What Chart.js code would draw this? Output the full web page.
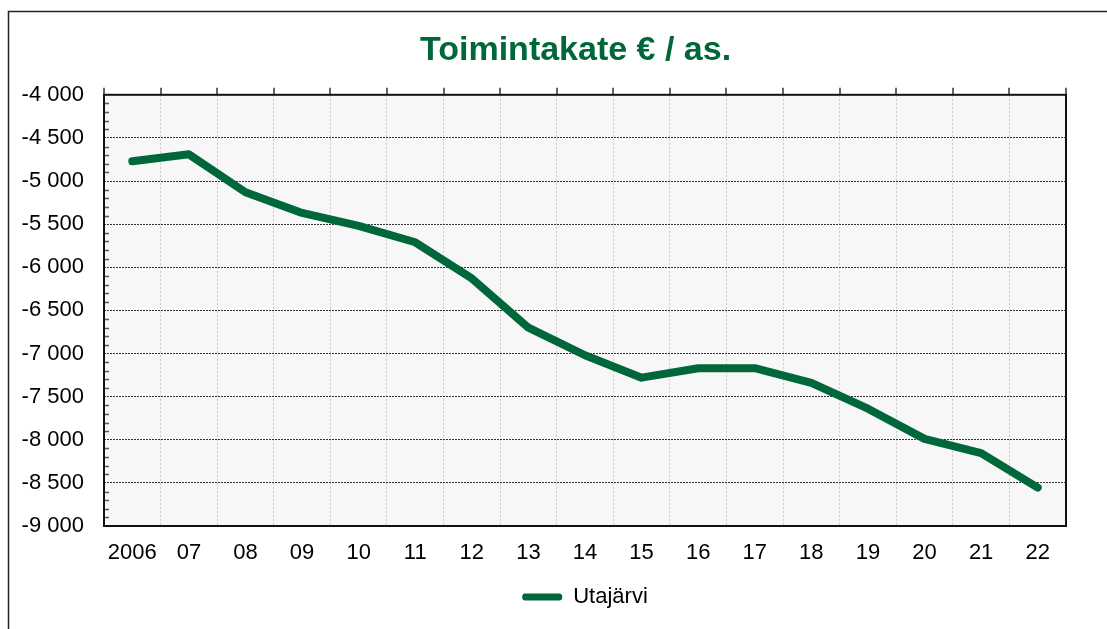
<!DOCTYPE html>
<html>
<head>
<meta charset="utf-8">
<script src="https://cdn.jsdelivr.net/npm/chart.js@4"></script>
<style>
  html, body { margin: 0; padding: 0; background: #fff; }
  #wrap { width: 1107px; height: 629px; }
</style>
</head>
<body>
<div id="wrap"><canvas id="chart" width="1107" height="629"></canvas></div>
<script>
// Data
const years = ["2006", "07", "08", "09", "10", "11", "12", "13", "14", "15", "16", "17", "18", "19", "20", "21", "22"];
const utajarvi = [-4770, -4690, -5130, -5370, -5520, -5710, -6130, -6700, -7020, -7280, -7170, -7170, -7340, -7640, -7990, -8155, -8555];
const seriesName = "Utajärvi";
const chartTitle = "Toimintakate € / as.";

const green = "#00673a";
const font = "Arial, 'Liberation Sans', sans-serif";

// Plot background, frame, little tick marks
const framePlugin = {
  id: "frame",
  beforeDraw(chart) {
    const { ctx, chartArea: a } = chart;
    ctx.save();
    ctx.fillStyle = "#f7f7f7";
    ctx.fillRect(a.left, a.top, a.right - a.left, a.bottom - a.top);
    // outer frame (left + top only visible)
    ctx.strokeStyle = "#222";
    ctx.lineWidth = 1.5;
    ctx.beginPath();
    ctx.moveTo(8.5, 629);
    ctx.lineTo(8.5, 11.5);
    ctx.lineTo(1107, 11.5);
    ctx.stroke();
    ctx.restore();
  },
  afterDraw(chart) {
    const { ctx, chartArea: a, scales } = chart;
    ctx.save();
    // minor ticks on y axis, inside
    ctx.strokeStyle = "#555";
    ctx.lineWidth = 1.5;
    for (let v = -9000; v <= -4000; v += 100) {
      if (v % 500 === 0) continue;
      const y = Math.round(scales.y.getPixelForValue(v)) + 0.5;
      ctx.beginPath();
      ctx.moveTo(a.left, y);
      ctx.lineTo(a.left + 5, y);
      ctx.stroke();
    }
    // top ticks at category boundaries
    ctx.strokeStyle = "#666";
    ctx.lineWidth = 2;
    for (let i = 0; i <= years.length; i++) {
      const x = Math.round(scales.x.getPixelForValue(i - 0.5));
      ctx.beginPath();
      ctx.moveTo(x, a.top);
      ctx.lineTo(x, a.top - 7);
      ctx.stroke();
    }
    // plot frame
    ctx.strokeStyle = "#111";
    ctx.lineWidth = 2;
    ctx.strokeRect(a.left, a.top, a.right - a.left, a.bottom - a.top);
    ctx.restore();
  }
};

new Chart(document.getElementById("chart"), {
  type: "line",
  data: {
    labels: years,
    datasets: [{
      label: seriesName,
      data: utajarvi,
      borderColor: green,
      backgroundColor: green,
      borderWidth: 8,
      borderJoinStyle: "round",
      borderCapStyle: "round",
      pointRadius: 0,
      tension: 0
    }]
  },
  options: {
    responsive: false,
    animation: false,
    layout: { padding: { left: 0, right: 41, top: 0, bottom: 11 } },
    plugins: {
      title: {
        display: true,
        fullSize: false,
        text: chartTitle + "  ",
        color: green,
        font: { family: font, size: 34, weight: "bold" },
        padding: { top: 30, bottom: 24 }
      },
      legend: {
        position: "bottom",
        fullSize: false,
        labels: {
          color: "#000",
          font: { family: font, size: 22 },
          boxWidth: 40,
          boxHeight: 7,
          padding: 10,
          generateLabels(chart) {
            return [{
              text: seriesName,
              fillStyle: green,
              strokeStyle: green,
              lineWidth: 0,
              borderRadius: 3,
              datasetIndex: 0
            }];
          }
        }
      },
      tooltip: { enabled: false }
    },
    scales: {
      x: {
        offset: true,
        grid: {
          offset: true,
          color: "#c8c8c8",
          lineWidth: 1,
          drawTicks: false
        },
        border: { display: false, dash: [2, 2] },
        ticks: {
          color: "#000",
          font: { family: font, size: 22 },
          padding: 14,
          maxRotation: 0,
          autoSkip: false
        },
        afterFit(scale) { scale.height = 50; }
      },
      y: {
        min: -9000,
        max: -4000,
        grid: {
          color: (c) => (c.tick && (c.tick.value === -9000 || c.tick.value === -4000)) ? "rgba(0,0,0,0)" : "#333",
          lineWidth: 1,
          drawTicks: false
        },
        border: { display: false, dash: [2, 1] },
        ticks: {
          stepSize: 500,
          color: "#000",
          font: { family: font, size: 22 },
          padding: 20,
          callback: (v) => {
            const s = Math.abs(v).toString();
            const t = s.length > 3 ? s.slice(0, s.length - 3) + " " + s.slice(-3) : s;
            return (v < 0 ? "-" : "") + t;
          }
        },
        afterFit(scale) { scale.width = 104; }
      }
    }
  },
  plugins: [framePlugin]
});
</script>
</body>
</html>
